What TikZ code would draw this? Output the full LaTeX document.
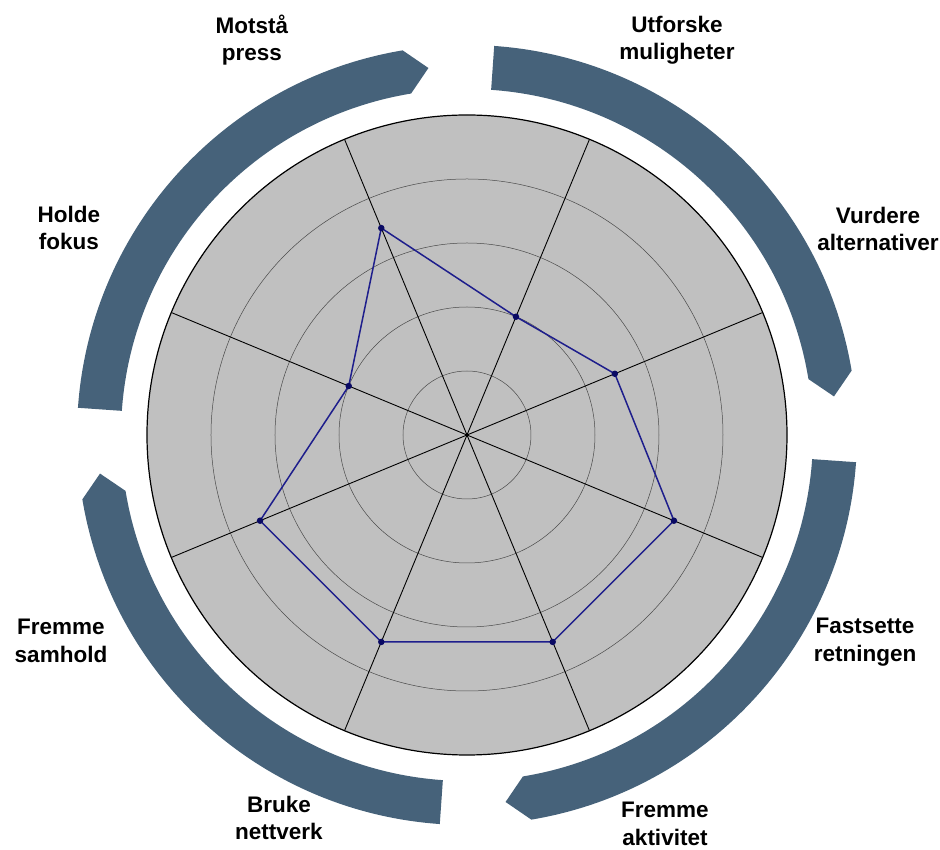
\documentclass[tikz,border=0pt]{standalone}
\usepackage{fontspec}
\setmainfont{Liberation Sans}
\usetikzlibrary{calc}
\definecolor{wheelBand}{HTML}{46627A}
\definecolor{wheelFill}{HTML}{C0C0C0}
\definecolor{plotLine}{HTML}{1E1E8C}
\definecolor{plotDot}{HTML}{0A0A64}
\definecolor{ringGrey}{HTML}{4A4A4A}

\begin{document}
\begin{tikzpicture}[x=1pt, y=1pt,
  band/.style={fill=wheelBand, draw=none},
  spoke/.style={black, line width=0.9pt},
  ring/.style={ringGrey, line width=0.5pt},
  plot/.style={plotLine, line width=1.5pt, line join=round},
  dot/.style={circle, fill=plotDot, inner sep=0pt, minimum size=6.5pt},
  lbl/.style={font=\fontsize{22.5}{27.5}\selectfont\bfseries, align=center}]
\useasboundingbox (-467,-415) rectangle (473,435);
\coordinate (c) at (0,0);
\fill[wheelFill] (c) circle (320);
\foreach \r in {64,128,192,256}{\draw[ring] (c) circle (\r);}
\foreach \a in {22.5,67.5,...,337.5}{\draw[spoke] (c) -- (\a:320);}
\draw[black, line width=1.2pt] (c) circle (320);
% curved arrows round the wheel
\foreach \k in {0,1,2,3}{
  \fill[band, rotate=-90*\k] (86:390) arc[start angle=86, end angle=9.5, radius=390] -- (6:369) -- (9.3:346) arc[start angle=9.3, end angle=86, radius=346] -- cycle;}
% scores
\foreach \a/\v [count=\i] in {112.5/3.5, 67.5/2, 22.5/2.5, -22.5/3.5, -67.5/3.5, -112.5/3.5, -157.5/3.5, 157.5/2}{
  \coordinate (p\i) at (\a:{64*\v});}
\draw[plot] (p1) -- (p2) -- (p3) -- (p4) -- (p5) -- (p6) -- (p7) -- (p8) -- cycle;
\foreach \i in {1,...,8}{\node[dot] (d\i) at (p\i) {};}
% labels
\node[lbl] (press)   at (-215,395) {Motstå\\press};
\node[lbl] (utforsk) at (210,395)  {Utforske\\muligheter};
\node[lbl] (vurder)  at (411,206)  {Vurdere\\alternativer};
\node[lbl] (retning) at (398,-207) {Fastsette\\retningen};
\node[lbl] (aktiv)   at (198,-389) {Fremme\\aktivitet};
\node[lbl] (nett)    at (-188,-383) {Bruke\\nettverk};
\node[lbl] (samhold) at (-406,-206) {Fremme\\samhold};
\node[lbl] (fokus)   at (-398,207) {Holde\\fokus};
\end{tikzpicture}
\end{document}
